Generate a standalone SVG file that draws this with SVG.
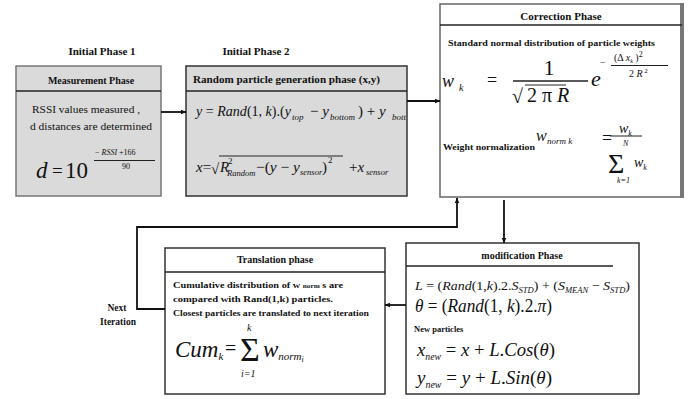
<svg xmlns="http://www.w3.org/2000/svg" width="700" height="399" viewBox="0 0 700 399" font-family="'Liberation Serif', 'Times New Roman', 'DejaVu Serif', serif">
<defs>
<marker id="ah" viewBox="0 0 10 10" refX="9" refY="5" markerWidth="6" markerHeight="6" orient="auto" markerUnits="userSpaceOnUse"><path d="M0,1 L10,5 L0,9 z" fill="#111"/></marker>
<clipPath id="rclip"><rect x="186" y="92" width="220" height="103"/></clipPath>
</defs>
<style>
svg, text, tspan { font-family: 'Liberation Serif', 'Times New Roman', 'DejaVu Serif', serif; }
text{fill:#111}
.b{font-weight:bold}
.i{font-style:italic}
.hd{font-weight:bold;font-size:10px;text-anchor:middle}
.sm{font-weight:bold;font-size:8.5px}
.box{stroke:#333;stroke-width:1.5}
.gray{fill:#dadada}
.wh{fill:#fff}
.sep{stroke:#222;stroke-width:1.5}
.conn{fill:none;stroke:#111;stroke-width:1.8}
.fl{stroke:#222;stroke-width:1}
</style>
<rect width="700" height="399" fill="#fff"/>

<text class="b" x="102" y="55" font-size="11" text-anchor="middle">Initial  Phase 1</text>
<text class="b" x="256" y="55" font-size="11" text-anchor="middle">Initial Phase 2</text>

<g id="measurement">
<rect class="box gray" x="16" y="66" width="145" height="130" style="stroke:#777"/>
<line class="sep" x1="16" y1="91" x2="161" y2="91"/>
<text class="hd" x="91" y="84" font-size="10.5">Measurement Phase</text>
<text x="86" y="113" font-size="11" text-anchor="middle" textLength="108" lengthAdjust="spacingAndGlyphs">RSSI values   measured ,</text>
<text x="91" y="130" font-size="11" text-anchor="middle" textLength="122" lengthAdjust="spacingAndGlyphs">d  distances  are determined</text>
<text class="i" x="36" y="178" font-size="23">d</text>
<text x="52" y="177" font-size="19">=</text>
<text x="65" y="178" font-size="23">10</text>
<text x="95" y="155" font-size="8">− <tspan class="i">RSSI</tspan>   +166</text>
<line class="fl" x1="94" y1="160.5" x2="155" y2="160.5"/>
<text x="122" y="169" font-size="8">90</text>
</g>

<g id="random">
<rect class="box gray" x="186" y="66" width="221" height="130"/>
<line class="sep" x1="186" y1="91" x2="407" y2="91"/>
<text class="b" x="193" y="83" font-size="10.5" textLength="187" lengthAdjust="spacingAndGlyphs">Random particle generation  phase  (x,y)</text>
<g clip-path="url(#rclip)">
<text x="196" y="116" font-size="15" textLength="95" lengthAdjust="spacingAndGlyphs"><tspan class="i">y</tspan> = <tspan class="i">Rand</tspan>(1, <tspan class="i">k</tspan>).(<tspan class="i">y</tspan></text>
<text class="i" x="292" y="120" font-size="9">top</text>
<text x="310" y="116" font-size="15">− <tspan class="i">y</tspan></text>
<text class="i" x="330" y="120" font-size="9">bottom</text>
<text x="358" y="116" font-size="15">) + <tspan class="i">y</tspan></text>
<text class="i" x="392" y="120" font-size="9">bottom</text>
</g>
<text x="196" y="172" font-size="15"><tspan class="i">x</tspan>=</text>
<text x="211" y="174" font-size="15">√</text>
<line class="fl" x1="219" y1="156" x2="343" y2="156"/>
<text class="i" x="220" y="172" font-size="15">R</text>
<text x="228" y="164" font-size="9">2</text>
<text class="i" x="227" y="176" font-size="8.5">Random</text>
<text x="256" y="172" font-size="15" textLength="44" lengthAdjust="spacingAndGlyphs">−(<tspan class="i">y</tspan> − <tspan class="i">y</tspan></text>
<text class="i" x="300" y="175" font-size="8.5">sensor</text>
<text x="322" y="172" font-size="15">)</text>
<text x="328" y="163" font-size="9">2</text>
<text x="349" y="172" font-size="15">+<tspan class="i">x</tspan></text>
<text class="i" x="366" y="175" font-size="8.5">sensor</text>
</g>

<g id="correction">
<rect class="wh" x="440" y="4" width="242" height="193" style="stroke:#666;stroke-width:1.5"/>
<line x1="682" y1="3" x2="682" y2="198" stroke="#777" stroke-width="4"/>
<line class="sep" x1="440" y1="25" x2="682" y2="25"/>
<text class="b" x="561" y="20" font-size="11" text-anchor="middle">Correction Phase</text>
<text class="sm" x="448" y="46" textLength="207" lengthAdjust="spacingAndGlyphs">Standard  normal distribution  of particle weights</text>
<text class="i" x="442" y="87" font-size="18">w</text>
<text class="i" x="459" y="91" font-size="10">k</text>
<text x="487" y="86" font-size="18">=</text>
<text x="549" y="75" font-size="22" text-anchor="middle">1</text>
<line x1="513" y1="81" x2="588" y2="81" stroke="#222" stroke-width="1.3"/>
<text x="512" y="103" font-size="20">√</text>
<line class="fl" x1="525" y1="85" x2="566" y2="85"/>
<text x="527" y="102" font-size="20">2 π  <tspan class="i">R</tspan></text>
<text class="i" x="591" y="86" font-size="22">e</text>
<text x="600" y="66" font-size="10">−</text>
<text x="614" y="61" font-size="10">(Δ <tspan class="i">x</tspan><tspan class="i" font-size="6" dy="2">k</tspan><tspan dy="-2"> )</tspan><tspan font-size="8" dy="-4">2</tspan></text>
<line class="fl" x1="611" y1="65.5" x2="668" y2="65.5"/>
<text x="629" y="77" font-size="10">2 <tspan class="i">R</tspan><tspan font-size="7" dy="-4"> 2</tspan></text>
<text class="sm" x="443" y="150" textLength="92" lengthAdjust="spacingAndGlyphs">Weight normalization</text>
<text class="i" x="536" y="141" font-size="16">w</text>
<text class="i" x="547" y="144" font-size="9">norm k</text>
<text x="602" y="144" font-size="18">=</text>
<text class="i" x="619" y="133" font-size="14">w<tspan font-size="8" dy="3">k</tspan></text>
<line class="fl" x1="610" y1="136" x2="642" y2="136"/>
<text class="i" x="623" y="146" font-size="8">N</text>
<text x="608" y="173" font-size="28">Σ</text>
<text class="i" x="617" y="183" font-size="8">k=1</text>
<text class="i" x="634" y="167" font-size="14">w<tspan font-size="8" dy="3">k</tspan></text>
</g>

<g id="modification">
<rect class="wh box" x="406" y="243" width="233" height="151"/>
<line class="sep" x1="406" y1="266" x2="613" y2="266"/>
<text class="hd" x="522" y="259" font-size="9.5">modification Phase</text>
<text x="415" y="290" font-size="13" textLength="215" lengthAdjust="spacingAndGlyphs"><tspan class="i">L</tspan> = (<tspan class="i">Rand</tspan>(1,<tspan class="i">k</tspan>).2.<tspan class="i">S</tspan><tspan class="i" font-size="8" dy="3">STD</tspan><tspan dy="-3">) + (</tspan><tspan class="i">S</tspan><tspan class="i" font-size="8" dy="3">MEAN</tspan><tspan dy="-3"> − </tspan><tspan class="i">S</tspan><tspan class="i" font-size="8" dy="3">STD</tspan><tspan dy="-3">)</tspan></text>
<text x="415" y="312" font-size="18" textLength="137" lengthAdjust="spacingAndGlyphs"><tspan class="i">θ</tspan> = (<tspan class="i">Rand</tspan>(1, <tspan class="i">k</tspan>).2.<tspan class="i">π</tspan>)</text>
<text class="sm" x="414" y="332" font-size="9">New particles</text>
<text x="417" y="356" font-size="19" textLength="138" lengthAdjust="spacingAndGlyphs"><tspan class="i">x</tspan><tspan class="i" font-size="10" dy="4">new</tspan><tspan dy="-4"> = </tspan><tspan class="i">x</tspan> + <tspan class="i">L</tspan>.<tspan class="i">Cos</tspan>(<tspan class="i">θ</tspan>)</text>
<text x="417" y="384" font-size="19" textLength="135" lengthAdjust="spacingAndGlyphs"><tspan class="i">y</tspan><tspan class="i" font-size="10" dy="4">new</tspan><tspan dy="-4"> = </tspan><tspan class="i">y</tspan> + <tspan class="i">L</tspan>.<tspan class="i">Sin</tspan>(<tspan class="i">θ</tspan>)</text>
</g>

<g id="translation">
<rect class="wh box" x="165" y="248" width="220" height="146"/>
<line class="sep" x1="165" y1="272" x2="385" y2="272"/>
<text class="hd" x="275" y="263">Translation phase</text>
<text class="sm" x="173" y="288" textLength="170" lengthAdjust="spacingAndGlyphs">Cumulative  distribution  of  w <tspan font-size="6">norm</tspan> s are</text>
<text class="sm" x="173" y="302" textLength="160" lengthAdjust="spacingAndGlyphs">compared  with Rand(1,k)  particles.</text>
<text class="sm" x="173" y="316" textLength="196" lengthAdjust="spacingAndGlyphs">Closest particles are translated to next iteration</text>
<text class="i" x="175" y="357" font-size="23">Cum<tspan font-size="11" dy="3">k</tspan></text>
<text x="225" y="355" font-size="20">=</text>
<text x="240" y="361" font-size="34">Σ</text>
<text class="i" x="247" y="331" font-size="10">k</text>
<text class="i" x="241" y="377" font-size="10">i=1</text>
<text class="i" x="263" y="357" font-size="23">w<tspan font-size="11" dy="3">norm</tspan><tspan font-size="8" dy="2">i</tspan></text>
</g>

<text class="b" x="117" y="311" font-size="9.5" text-anchor="middle">Next</text>
<text class="b" x="118" y="325" font-size="9.5" text-anchor="middle">Iteration</text>

<g id="connectors">
<line class="conn" x1="161" y1="112" x2="186" y2="112" marker-end="url(#ah)"/>
<line class="conn" x1="407" y1="101" x2="440" y2="101" marker-end="url(#ah)"/>
<line class="conn" x1="504" y1="200" x2="504" y2="243" marker-end="url(#ah)"/>
<line class="conn" x1="406" y1="305" x2="385" y2="305" marker-end="url(#ah)"/>
<polyline class="conn" points="165,309 137,309 137,227 457,227 457,198" marker-end="url(#ah)"/>
</g>
</svg>
